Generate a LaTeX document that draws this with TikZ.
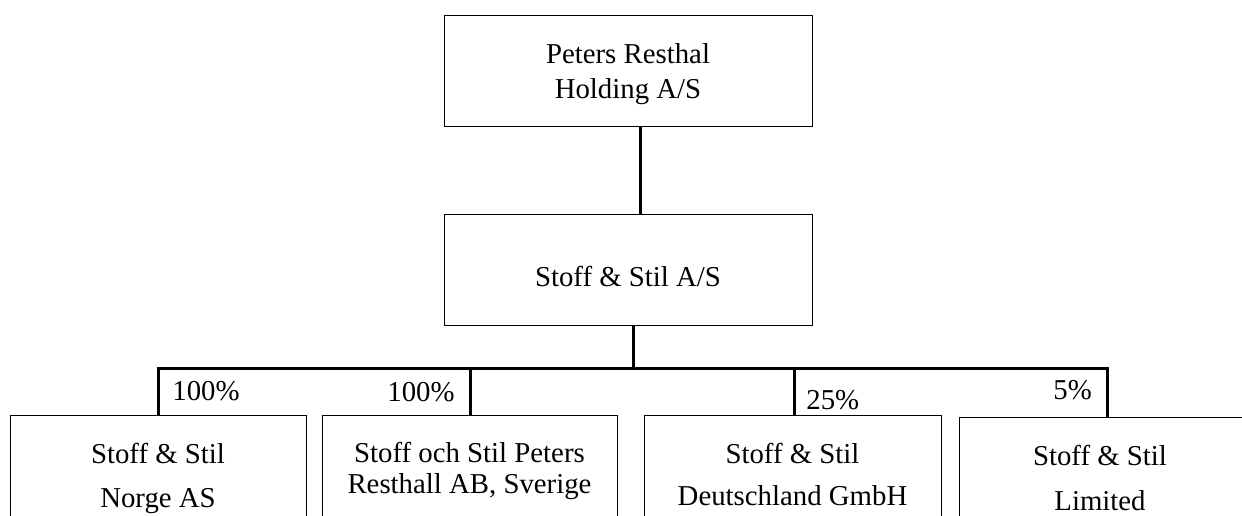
\documentclass[tikz,border=0pt]{standalone}
\usepackage{fontspec}
\setmainfont{Liberation Serif}

\begin{document}
\begin{tikzpicture}[x=0.5pt, y=-0.5pt,
  firm/.style={rectangle, draw, line width=0.6pt, anchor=north west, inner sep=0pt},
  firmtext/.style={align=center, anchor=base, inner sep=0pt, font=\fontsize{14.4}{#1}\selectfont},
  link/.style={line width=1.5pt},
  share/.style={anchor=base west, inner sep=0pt, font=\fontsize{14.4}{17}\selectfont}]
  \useasboundingbox (0,0) rectangle (1242,515);
  \clip (0,0) rectangle (1242,515);
  % parents
  \node[firm, minimum width=184pt, minimum height=55.5pt] (holding) at (444,15) {};
  \node[firmtext=17.5pt] (holdingtxt) at (628,98) {Peters Resthal\\Holding A/S};
  \node[firm, minimum width=184pt, minimum height=55.5pt] (stoff) at (444,214) {};
  \node[firmtext=17.5pt] (stofftxt) at (628,286) {Stoff \& Stil A/S};
  % subsidiaries
  \node[firm, minimum width=148pt, minimum height=65pt] (norge) at (10,415) {};
  \node[firmtext=22pt] (norgetxt) at (158,507) {Stoff \& Stil\\Norge AS};
  \node[firm, minimum width=147.5pt, minimum height=65pt] (sverige) at (322,415) {};
  \node[firmtext=15.5pt] (sverigetxt) at (469.5,493) {Stoff och Stil Peters\\Resthall AB, Sverige};
  \node[firm, minimum width=148.5pt, minimum height=65pt] (tyskland) at (644,415) {};
  \node[firmtext=21pt] (tysklandtxt) at (792.5,505) {Stoff \& Stil\\Deutschland GmbH};
  \node[firm, minimum width=150.5pt, minimum height=65pt] (limited) at (959,417) {};
  \node[firmtext=22.5pt] (limitedtxt) at (1100,510) {Stoff \& Stil\\Limited};
  % ownership lines
  \coordinate (tapN) at (158,368);
  \coordinate (tapS) at (470,368);
  \coordinate (tapD) at (794,368);
  \coordinate (tapL) at (1107,368);
  \draw[link] ([xshift=6pt]holding.south) -- ([xshift=6pt]stoff.north);
  \draw[link] ([xshift=2.5pt]stoff.south) -- ([xshift=2.5pt]stoff.south |- tapN);
  \draw[link] (tapN |- norge.north) -- (tapN) -- (tapL) -- (tapL |- limited.north);
  \draw[link] (tapS) -- (tapS |- sverige.north);
  \draw[link] (tapD) -- (tapD |- tyskland.north);
  \node[share] (pctN) at (172,400) {100\%};
  \node[share] (pctS) at (387,401) {100\%};
  \node[share] (pctD) at (806,409) {25\%};
  \node[share] (pctL) at (1053,399) {5\%};
\end{tikzpicture}
\end{document}
